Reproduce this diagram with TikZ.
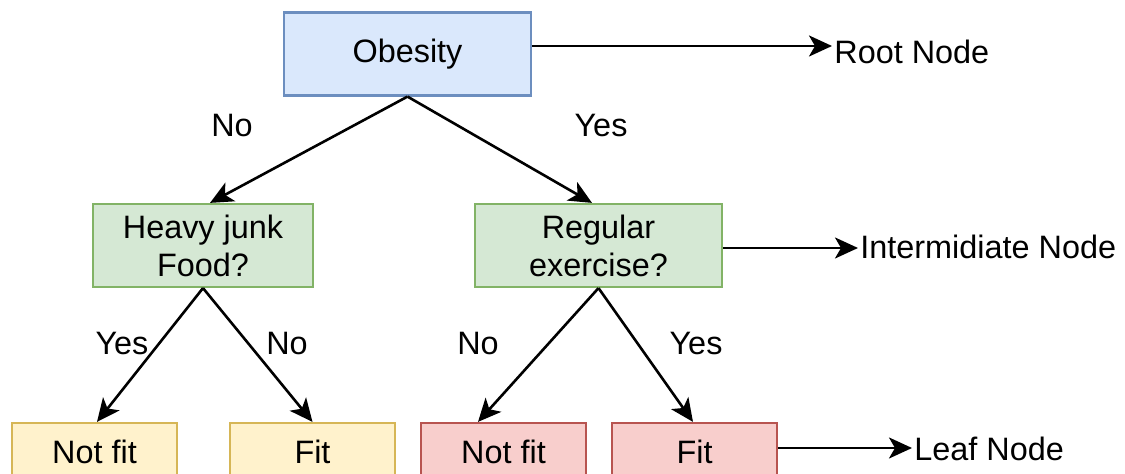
\documentclass[tikz,border=0pt]{standalone}
\usepackage{fontspec}
\setmainfont{Liberation Sans}
\usetikzlibrary{arrows.meta}

\definecolor{blueFill}{HTML}{DAE8FC}
\definecolor{blueLine}{HTML}{6C8EBF}
\definecolor{greenFill}{HTML}{D5E8D4}
\definecolor{greenLine}{HTML}{82B366}
\definecolor{yellowFill}{HTML}{FFF2CC}
\definecolor{yellowLine}{HTML}{D6B656}
\definecolor{redFill}{HTML}{F8CECC}
\definecolor{redLine}{HTML}{B85450}

\tikzset{
  txt/.style={font=\fontsize{16.2}{19}\selectfont, text=black},
  box/.style={txt, draw, line width=1.1pt, rectangle, align=center,
              minimum height=41.5pt, inner sep=0pt},
  rootbox/.style={box, fill=blueFill, draw=blueLine, minimum width=123.5pt},
  midbox/.style={box, fill=greenFill, draw=greenLine},
  leafbox/.style={box, minimum width=82.5pt, minimum height=29pt},
  leafA/.style={leafbox, fill=yellowFill, draw=yellowLine},
  leafB/.style={leafbox, fill=redFill, draw=redLine},
  arr/.style={line width=1.3pt, -{Stealth[length=11.5pt, width=10.5pt, inset=3pt]}},
  lbl/.style={txt, inner sep=0pt},
}

\begin{document}
\begin{tikzpicture}[x=0.5pt, y=-0.5pt]
  \useasboundingbox (0,0) rectangle (1125,474);

  % tree nodes
  \node[rootbox] (ob) at (407.5,54) {Obesity};
  \node[midbox, minimum width=110pt] (hj) at (203,245.5) {Heavy junk\\Food?};
  \node[midbox, minimum width=123.5pt] (re) at (598.5,245.5) {Regular\\exercise?};
  \node[leafA] (nfa) at (94.5,452) {Not fit};
  \node[leafA] (fa) at (312.5,452) {Fit};
  \node[leafB] (nfb) at (503.5,452) {Not fit};
  \node[leafB] (fb) at (694.5,452) {Fit};

  % branches
  \draw[arr] (ob.south) -- ([xshift=3.5pt]hj.north);
  \draw[arr] (ob.south) -- ([xshift=-3.25pt]re.north);
  \draw[arr] (hj.south) -- ([xshift=1.25pt]nfa.north);
  \draw[arr] (hj.south) -- (fa.north);
  \draw[arr] (re.south) -- ([xshift=-12.75pt]nfb.north);
  \draw[arr] (re.south) -- ([xshift=-0.75pt]fb.north);

  % branch labels
  \node[lbl] (l1) at (232,126) {No};
  \node[lbl] (l2) at (601,126) {Yes};
  \node[lbl] (l3) at (122,344) {Yes};
  \node[lbl] (l4) at (287,344) {No};
  \node[lbl] (l5) at (478,344) {No};
  \node[lbl] (l6) at (696,344) {Yes};

  % legend
  \node[lbl, anchor=west] (rootTxt) at (834,51.5) {Root Node};
  \node[lbl, anchor=west] (midTxt) at (860,247) {Intermidiate Node};
  \node[lbl, anchor=west] (leafTxt) at (914,449) {Leaf Node};
  \coordinate (rootEnd) at (832,46);
  \coordinate (midEnd) at (858,248);
  \coordinate (leafEnd) at (912,448);
  \draw[arr] (ob.east |- rootEnd) -- (rootEnd);
  \draw[arr] (re.east |- midEnd) -- (midEnd);
  \draw[arr] (fb.east |- leafEnd) -- (leafEnd);
\end{tikzpicture}
\end{document}
